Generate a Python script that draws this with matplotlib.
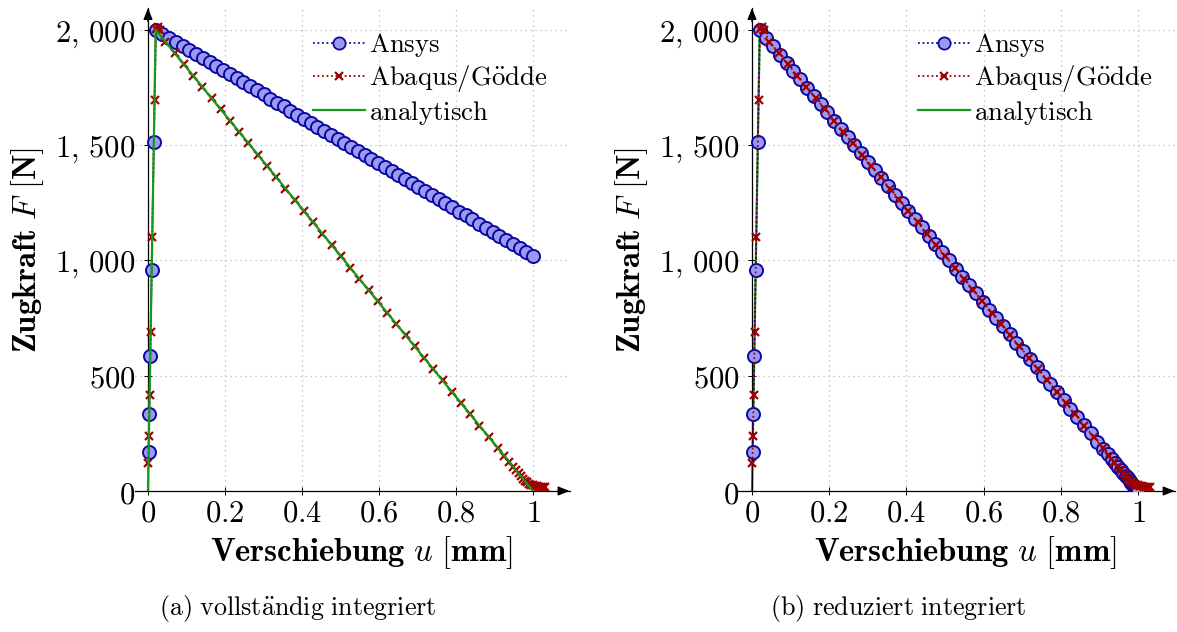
import matplotlib
matplotlib.use("Agg")
import matplotlib.pyplot as plt
from matplotlib.lines import Line2D

plt.rcParams["mathtext.fontset"] = "cm"
plt.rcParams["font.family"] = ["DejaVu Serif"]

# ---------------- data ----------------
# (a) full integration
ansys_a_u = [0.0017, 0.0034, 0.0059, 0.0096, 0.0152, 0.02,
             0.0375, 0.055, 0.0725, 0.09, 0.1075, 0.125, 0.1425, 0.16, 0.1775, 0.195,
             0.2125, 0.23, 0.2475, 0.265, 0.2825, 0.30, 0.3175, 0.335, 0.3525, 0.37,
             0.3875, 0.405, 0.4225, 0.44, 0.4575, 0.475, 0.4925, 0.51, 0.5275, 0.545,
             0.5625, 0.58, 0.5975, 0.615, 0.6325, 0.65, 0.6675, 0.685, 0.7025, 0.72,
             0.7375, 0.755, 0.7725, 0.79, 0.8075, 0.825, 0.8425, 0.86, 0.8775, 0.895,
             0.9125, 0.93, 0.9475, 0.965, 0.9825, 1.0]
ansys_a_F = [167, 335, 585, 960, 1515, 2000,
             1982, 1965, 1948, 1930, 1912, 1895, 1878, 1860, 1842, 1825,
             1808, 1790, 1772, 1755, 1738, 1720, 1702, 1685, 1668, 1650,
             1632, 1615, 1598, 1580, 1562, 1545, 1528, 1510, 1492, 1475,
             1458, 1440, 1422, 1405, 1388, 1370, 1352, 1335, 1318, 1300,
             1282, 1265, 1248, 1230, 1212, 1195, 1178, 1160, 1142, 1125,
             1108, 1090, 1072, 1055, 1038, 1020]

# Abaqus/Gödde (identical in both variants)
abaqus_u = [0.0012, 0.0024, 0.0042, 0.0069, 0.011, 0.017, 0.021, 0.026, 0.031,
            0.045, 0.069, 0.093, 0.117, 0.141, 0.165, 0.189, 0.213, 0.237, 0.261,
            0.285, 0.309, 0.333, 0.357, 0.381, 0.405, 0.429, 0.453, 0.477, 0.501,
            0.525, 0.549, 0.573, 0.597, 0.621, 0.645, 0.669, 0.693, 0.717, 0.741,
            0.765, 0.789, 0.813, 0.837, 0.861, 0.885, 0.909,
            0.925, 0.938, 0.948, 0.956, 0.963, 0.969, 0.975, 0.980, 0.985, 0.990,
            0.995, 1.000, 1.005, 1.010, 1.015, 1.020, 1.025, 1.030]
abaqus_F = [122, 238, 417, 690, 1100, 1695, 2005, 2012, 2000,
            1949, 1900, 1851, 1802, 1753, 1704, 1655, 1606, 1557, 1508,
            1459, 1410, 1361, 1312, 1263, 1214, 1165, 1116, 1067, 1018,
            969, 920, 871, 822, 773, 724, 675, 627, 578, 529,
            480, 431, 382, 333, 284, 235, 186,
            153, 127, 106, 90, 76, 63, 52, 44, 37, 31,
            27, 24, 22, 20, 19, 18, 17, 16]

# analytical solution
analyt_u = [0.0, 0.02, 1.0]
analyt_F = [0.0, 2000.0, 0.0]

# (b) reduced integration
ansys_b_u = [0.0017, 0.0034, 0.0059, 0.0096, 0.0152, 0.02,
             0.0375, 0.055, 0.0725, 0.09, 0.1075, 0.125, 0.1425, 0.16, 0.1775, 0.195,
             0.2125, 0.23, 0.2475, 0.265, 0.2825, 0.30, 0.3175, 0.335, 0.3525, 0.37,
             0.3875, 0.405, 0.4225, 0.44, 0.4575, 0.475, 0.4925, 0.51, 0.5275, 0.545,
             0.5625, 0.58, 0.5975, 0.615, 0.6325, 0.65, 0.6675, 0.685, 0.7025, 0.72,
             0.7375, 0.755, 0.7725, 0.79, 0.8075, 0.825, 0.8425, 0.86, 0.8775, 0.895,
             0.91, 0.922, 0.932, 0.941, 0.949, 0.956, 0.962, 0.968, 0.973, 0.978,
             0.983, 0.987, 0.991, 0.995, 0.998, 1.0]
ansys_b_F = [167, 335, 585, 960, 1515, 2000,
             1964, 1929, 1893, 1857, 1821, 1786, 1750, 1714, 1679, 1643,
             1607, 1571, 1536, 1500, 1464, 1429, 1393, 1357, 1321, 1286,
             1250, 1214, 1179, 1143, 1107, 1071, 1036, 1000, 964, 929,
             893, 857, 821, 786, 750, 714, 679, 643, 607, 571,
             536, 500, 464, 429, 393, 357, 321, 286, 250, 214,
             184, 159, 139, 120, 104, 90, 78, 65, 55, 45,
             35, 27, 18, 10, 4, 0]

x_ticks = [0, 0.2, 0.4, 0.6, 0.8, 1.0]
x_tick_labels = ["$0$", "$0.2$", "$0.4$", "$0.6$", "$0.8$", "$1$"]
y_ticks = [0, 500, 1000, 1500, 2000]
y_tick_labels = ["$0$", "$500$", r"$1,\,000$", r"$1,\,500$", r"$2,\,000$"]

labels = [r"$\mathrm{Ansys}$", r"$\mathrm{Abaqus/G\ddot{o}dde}$", r"$\mathrm{analytisch}$"]
captions = [r"$\mathrm{(a)\ vollst\ddot{a}ndig\ integriert}$",
            r"$\mathrm{(b)\ reduziert\ integriert}$"]
xlabel = r"$\mathbf{Verschiebung}\ u\ \mathbf{[mm]}$"
ylabel = r"$\mathbf{Zugkraft}\ F\ \mathbf{[N]}$"

# ---------------- style ----------------
W, H = 1177, 632
FS_TICK = 22
FS_LABEL = 23.5
FS_LEG = 19.3
FS_CAP = 18.7
c_blue_edge = "#0a0aa0"
c_blue_face = "#9a9af5"
c_red = "#a00000"
c_green = "#14991a"

fig = plt.figure(figsize=(W / 100, H / 100), dpi=100)

XMIN, XMAX = -0.035, 1.095
YMIN, YMAX = 0, 2095


def make_axes(x0_px, scale):
    left = x0_px + XMIN * scale
    right = x0_px + XMAX * scale
    top, bottom = 8, 491
    return fig.add_axes([left / W, 1 - bottom / H, (right - left) / W, (bottom - top) / H])


def style_axes(ax):
    ax.set_xlim(XMIN, XMAX)
    ax.set_ylim(YMIN, YMAX)
    for s in ["top", "right"]:
        ax.spines[s].set_visible(False)
    ax.spines["left"].set_position(("data", 0))
    ax.spines["left"].set_linewidth(0.9)
    ax.spines["bottom"].set_linewidth(0.9)
    ax.set_xticks(x_ticks, labels=x_tick_labels)
    ax.set_yticks(y_ticks, labels=y_tick_labels)
    ax.tick_params(direction="inout", length=6, width=0.7, labelsize=FS_TICK, pad=2)
    ax.tick_params(axis="y", pad=6)
    ax.grid(True, linestyle=(0, (1, 3)), color="#b8b8b8", linewidth=0.9)
    ax.set_axisbelow(True)
    ax.patch.set_alpha(0)
    arrow = dict(arrowstyle="-|>,head_length=0.7,head_width=0.28", color="k", lw=0.9,
                 shrinkA=0, shrinkB=0)
    ax.annotate("", xy=(XMAX, 0), xytext=(XMAX - 0.03, 0), arrowprops=arrow,
                annotation_clip=False)
    ax.annotate("", xy=(0, YMAX), xytext=(0, YMAX - 60), arrowprops=arrow,
                annotation_clip=False)


def draw(ax, au, aF, green_z):
    ax.plot(au, aF, linestyle=(0, (1, 1.5)), color=c_blue_edge, lw=1.3, marker="o",
            ms=9.4, mfc=c_blue_face, mec=c_blue_edge, mew=1.4, zorder=3)
    ax.plot(abaqus_u, abaqus_F, linestyle=(0, (1, 1.5)), color=c_red, lw=1.3, marker="x",
            ms=5.5, mec=c_red, mew=1.6, zorder=4)
    ax.plot(analyt_u, analyt_F, color=c_green, lw=1.6, zorder=green_z)


handles = [
    Line2D([], [], linestyle=(0, (1, 1.5)), color=c_blue_edge, lw=1.3, marker="o", ms=8.8,
           mfc=c_blue_face, mec=c_blue_edge, mew=1.3),
    Line2D([], [], linestyle=(0, (1, 1.5)), color=c_red, lw=1.3, marker="x", ms=5.5,
           mec=c_red, mew=1.6),
    Line2D([], [], color=c_green, lw=1.6),
]

panels = [(148, 385, ansys_a_u, ansys_a_F, 313, 28, 361, 298, 5),
          (752, 386, ansys_b_u, ansys_b_F, 918, 632, 965, 898, 2.5)]

for i, (x0, sc, au, aF, leg_x, ylab_x, xlab_x, cap_x, gz) in enumerate(panels):
    ax = make_axes(x0, sc)
    style_axes(ax)
    draw(ax, au, aF, gz)
    ax.legend(handles, labels, loc="upper left", bbox_to_anchor=(leg_x / W, 1 - 31 / H),
              bbox_transform=fig.transFigure, frameon=False, fontsize=FS_LEG, numpoints=1,
              handlelength=1.95, handletextpad=0.15, labelspacing=0.16, borderpad=0,
              borderaxespad=0)
    fig.text(xlab_x / W, 1 - 553 / H, xlabel, ha="center", va="center", fontsize=FS_LABEL)
    fig.text(ylab_x / W, 1 - 250 / H, ylabel, ha="center", va="center", fontsize=FS_LABEL,
             rotation=90)
    fig.text(cap_x / W, 1 - 608 / H, captions[i], ha="center", va="center", fontsize=FS_CAP)

fig.savefig("out.png", dpi=100)
